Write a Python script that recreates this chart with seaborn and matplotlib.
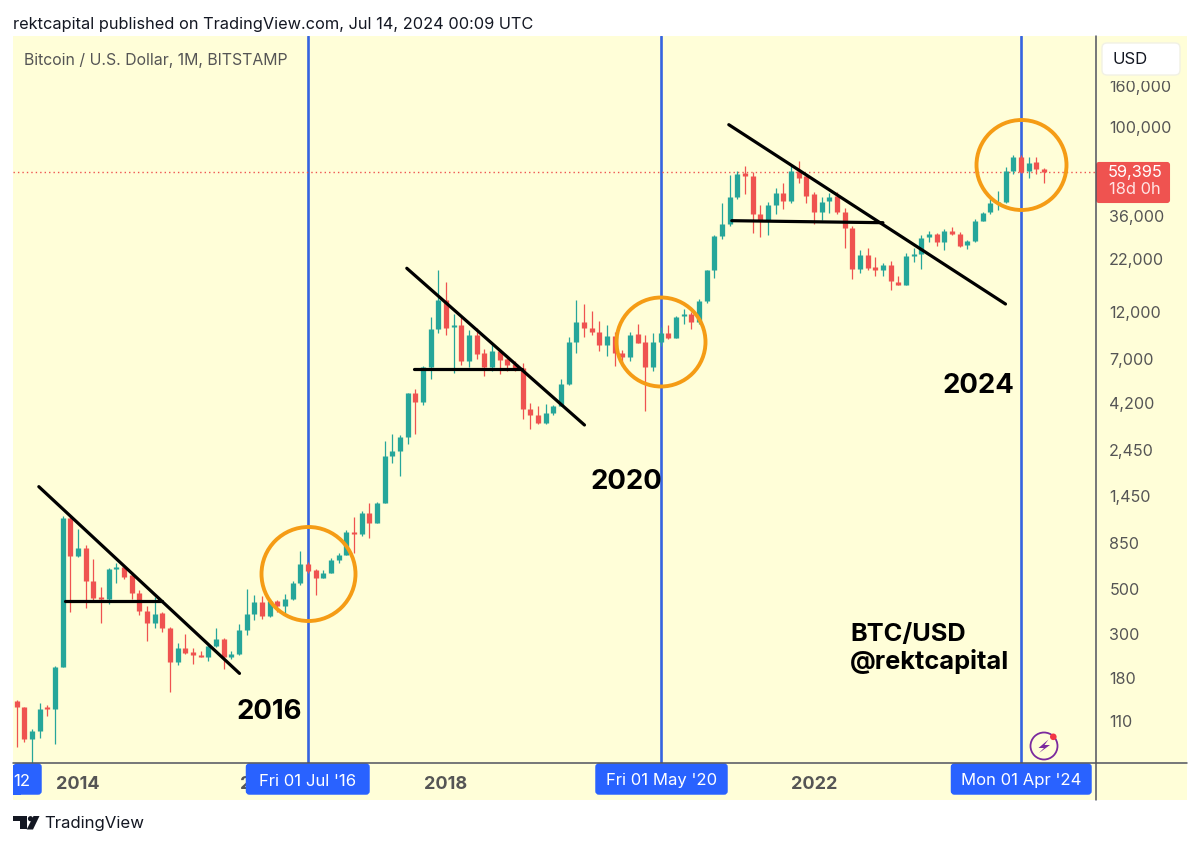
import matplotlib
matplotlib.use('Agg')
import matplotlib.pyplot as plt
import numpy as np
import pandas as pd
import seaborn as sns
from matplotlib.patches import Circle, FancyBboxPatch, Polygon, Rectangle

# BTC/USD monthly candles, May 2013 to Jul 2024
opens = [139, 129, 90, 98, 129, 126, 205, 1125,
         728, 800, 548, 455, 445, 627, 640, 590, 476, 390, 338, 380,
         320, 217, 254, 243, 235, 229, 261, 283, 230, 236, 312, 376,
         431, 367, 438, 412, 446, 534, 666, 624, 569, 603, 698, 739,
         966, 945, 1191, 1070, 1346, 2300, 2443, 2850, 4720, 4270, 6355, 9900,
         13750, 10100, 10300, 6857, 9205, 7500, 6355, 7690, 7000, 6620, 6300, 3928,
         3680, 3358, 3750, 4083, 5233, 8495, 10690, 9970, 9500, 8205, 9105, 7530,
         7130, 9350, 8530, 6355, 8530, 9450, 8930, 11400, 11650, 10690, 13650, 19400,
         28760, 32770, 44670, 58700, 57000, 36900, 34430, 41020, 46770, 42950, 60560, 56900,
         46300, 37740, 42900, 45500, 37600, 31550, 19630, 23070, 20000, 19400, 20500, 17000,
         16340, 22900, 23200, 28200, 29300, 26700, 30300, 29300, 25900, 27000, 34150, 37700,
         41700, 42500, 60700, 70600, 60700, 66950, 61800]
highs = [140, 129, 101, 135, 132, 207, 1159, 1163,
         995, 826, 706, 512, 637, 676, 650, 610, 494, 412, 457, 385,
         322, 268, 298, 254, 247, 267, 319, 285, 245, 335, 500, 467,
         462, 445, 442, 472, 548, 776, 684, 630, 625, 716, 754, 985,
         1138, 1224, 1346, 1350, 2741, 2958, 2920, 4760, 4940, 6450, 11280, 19400,
         17000, 11700, 11460, 9750, 9940, 7840, 8280, 7800, 7240, 6830, 6700, 4205,
         4090, 4155, 4130, 5540, 9030, 13750, 13090, 12170, 10840, 10290, 9500, 7730,
         9500, 10440, 9180, 9400, 10060, 10360, 11450, 12360, 12050, 13960, 19500, 29000,
         41700, 57680, 60560, 63970, 59500, 40740, 42500, 49890, 52480, 65460, 67930, 58500,
         47500, 44950, 47090, 47500, 39360, 32300, 24380, 24890, 22440, 20990, 21400, 18160,
         23660, 24890, 28970, 30470, 29800, 31060, 31620, 30000, 27500, 35000, 37900, 43750,
         48200, 63400, 72800, 72700, 71120, 71120, 62500]
lows = [82, 87, 65, 91, 116, 85, 204, 385,
        720, 404, 438, 340, 421, 538, 559, 444, 371, 276, 319, 307,
        153, 210, 237, 212, 228, 220, 258, 199, 225, 235, 296, 351,
        353, 362, 385, 379, 440, 525, 601, 465, 565, 601, 676, 735,
        759, 919, 895, 1065, 1340, 2129, 1828, 2630, 2958, 4130, 5540, 9400,
        9250, 5935, 6530, 6400, 6966, 5755, 6070, 5870, 6115, 6115, 3500, 3122,
        3330, 3330, 3680, 4060, 5200, 7465, 8995, 9180, 7690, 7240, 6470, 6450,
        6857, 8400, 3855, 6115, 8130, 8750, 8900, 10440, 9825, 10400, 13250, 17660,
        27600, 32130, 44000, 46400, 29780, 28440, 29100, 36900, 39170, 42000, 52840, 41700,
        32770, 34430, 37150, 37000, 25060, 17550, 18680, 19400, 18100, 18100, 15430, 16300,
        16280, 21180, 19540, 26730, 25530, 24490, 29000, 25300, 24690, 26600, 34000, 37000,
        38600, 42000, 58600, 59000, 55950, 58300, 52840]
closes = [129, 90, 98, 127, 126, 205, 1125, 728,
          800, 548, 450, 445, 627, 640, 576, 476, 390, 338, 376, 320,
          216, 254, 241, 235, 229, 261, 283, 230, 236, 312, 376, 431,
          367, 438, 412, 446, 534, 666, 617, 569, 603, 698, 739, 966,
          945, 1191, 1070, 1346, 2300, 2443, 2850, 4720, 4270, 6355, 9900, 13750,
          9970, 10300, 6857, 9205, 7410, 6355, 7690, 6915, 6530, 6210, 3928, 3680,
          3358, 3750, 4083, 5233, 8495, 10690, 9940, 9500, 8205, 9105, 7465, 7130,
          9205, 8430, 6400, 8530, 9400, 8930, 11350, 11700, 10690, 13650, 19400, 28760,
          32770, 44670, 58320, 57000, 36900, 34430, 41020, 46770, 42950, 60560, 55590, 45290,
          37740, 42480, 44800, 37600, 31550, 19630, 23070, 19770, 19350, 20540, 17050, 16340,
          22870, 23300, 28110, 29300, 26670, 30270, 29300, 25530, 27000, 34150, 37150, 41700,
          42500, 60560, 70630, 59500, 65920, 61800, 59395]

last_price = 59395
price_ticks = [110, 180, 300, 500, 850, 1450, 2450, 4200, 7000, 12000, 22000, 36000, 100000, 160000]
year_ticks = ['2014', '2016', '2018', '2022']
marked_months = ['2016-07', '2020-05', '2024-04']

# hand drawn lines: month (as candle number) and price at each end
trend_x = [[2.87, 29.05], [6.31, 18.91], [50.88, 74.06], [51.88, 65.93], [92.89, 128.99], [93.28, 113.0]]
trend_y = [[1617, 190], [437.5, 437.5], [19790, 3280], [6215, 6215], [102680, 13135], [34150, 33370]]

GREEN = '#26A69A'
RED = '#EF5350'
BLUE = '#2962FF'
YELLOW = '#FFFED8'
ORANGE = '#F59C15'
W, H = 1200, 847

months = pd.date_range('2013-05-01', periods=len(opens), freq='MS')
df = pd.DataFrame({'i': np.arange(len(opens)), 'open': opens, 'high': highs, 'low': lows, 'close': closes})
df['dir'] = np.where(df['close'] >= df['open'], 'up', 'down')
palette = {'up': GREEN, 'down': RED}

sns.set_theme(style='white')
plt.rcParams['font.family'] = ['Inter', 'DejaVu Sans']

fig = plt.figure(figsize=(12, 8.47), dpi=100, facecolor='white')


def pixel_axes(z):
    a = fig.add_axes([0, 0, 1, 1], zorder=z)
    a.set_xlim(0, W)
    a.set_ylim(H, 0)
    a.axis('off')
    a.patch.set_alpha(0)
    return a


back = pixel_axes(0)
back.add_patch(Rectangle((13, 36), 1174, 764, fc=YELLOW, ec='none'))

# main chart, 13..1096 by 36..763 in pixels
ax = fig.add_axes([13 / W, 1 - 763 / H, (1096 - 13) / W, (763 - 36) / H], zorder=1)
ax.patch.set_alpha(0)
ax.set_yscale('log')

for m in marked_months:
    i = months.get_loc(pd.Timestamp(m + '-01'))
    ax.axvline(i, color='#3563E0', lw=1.9, zorder=1)
ax.axhline(last_price, color=RED, lw=1.0, ls=(0, (1, 2.2)), zorder=1)

wicks = df.melt(id_vars=['i', 'dir'], value_vars=['low', 'high'], value_name='price')
bodies = df.melt(id_vars=['i', 'dir'], value_vars=['open', 'close'], value_name='price')
sns.lineplot(data=wicks, x='i', y='price', hue='dir', units='i', estimator=None, palette=palette,
             lw=0.9, legend=False, ax=ax, zorder=2, solid_capstyle='butt')
sns.lineplot(data=bodies, x='i', y='price', hue='dir', units='i', estimator=None, palette=palette,
             lw=3.8, legend=False, ax=ax, zorder=3, solid_capstyle='butt')

for tx, ty in zip(trend_x, trend_y):
    ax.plot(tx, ty, color='black', lw=2.3, zorder=4, solid_capstyle='round')

ax.set_xlim(-0.5, 140.8)
ax.set_ylim(68, 283900)
ax.set_xlabel('')
ax.set_ylabel('')
ax.yaxis.tick_right()
ax.minorticks_off()
ax.set_yticks(price_ticks)
ax.set_yticklabels([f'{p:,}' for p in price_ticks], fontsize=11.6, color='#555555')
ax.set_xticks([months.get_loc(pd.Timestamp(y + '-01-01')) for y in year_ticks])
ax.set_xticklabels(year_ticks, fontsize=13, color='#555555', fontweight='bold')
ax.tick_params(axis='y', length=0, pad=9.5)
ax.tick_params(axis='x', length=0, pad=9)
for s in ax.spines.values():
    s.set_visible(False)

over = pixel_axes(2)
# axis frame
over.plot([13, 1187], [763, 763], color='#50535E', lw=1.1)
over.plot([1096, 1096], [36, 800], color='#50535E', lw=1.1)

# orange circles
for cx, cy, r in [(308.5, 574, 47), (661, 342, 44.5), (1021.5, 165, 45)]:
    over.add_patch(Circle((cx, cy), r, fc='none', ec=ORANGE, lw=2.8))

# date tags on the time axis
for x0, x1, label in [(13, 42, ''), (245.5, 370, "Fri 01 Jul '16"), (595, 728, "Fri 01 May '20"),
                      (950.5, 1092, "Mon 01 Apr '24")]:
    over.add_patch(FancyBboxPatch((x0 + 2, 765), x1 - x0 - 4, 28, boxstyle='round,pad=0,rounding_size=2',
                                  mutation_aspect=1, fc=BLUE, ec=BLUE, lw=2.5))
    if label:
        over.text((x0 + x1) / 2, 781, label, color='white', fontsize=12, ha='center', va='center')
over.add_patch(Rectangle((13, 765), 8, 30, fc=BLUE, ec='none'))
over.text(21.5, 781, '12', color='white', fontsize=12, ha='center', va='center')

# price tag and USD box
over.add_patch(FancyBboxPatch((1097, 163), 72, 39, boxstyle='round,pad=0,rounding_size=2', fc=RED, ec=RED, lw=1.5))
over.text(1135, 172, '59,395', color='white', fontsize=11.8, ha='center', va='center')
over.text(1135, 190, '18d 0h', color='#FFE5E5', fontsize=11.8, ha='center', va='center')
over.add_patch(Rectangle((1100, 76), 82, 5, fc=YELLOW, ec='none'))
over.add_patch(FancyBboxPatch((1102, 43), 78, 32, boxstyle='round,pad=0,rounding_size=5',
                              fc='white', ec='#F1F1E4', lw=1))
over.text(1113, 59, 'USD', color='#131722', fontsize=12, ha='left', va='center')

# header and titles
over.text(13, 24, 'rektcapital published on TradingView.com, Jul 14, 2024 00:09 UTC', color='#131722',
          fontsize=11.77, ha='left', va='center')
over.text(24, 60, 'Bitcoin / U.S. Dollar, 1M, BITSTAMP', color='#555555', fontsize=11.4, ha='left', va='center')

# hand written labels
for x, y, label in [(237, 712, '2016'), (590, 482, '2020'), (943, 386, '2024')]:
    over.text(x, y, label, color='black', fontsize=19.8, fontweight='bold', ha='left', va='center')
over.text(850, 635, 'BTC/USD', color='black', fontsize=18.3, fontweight='bold', ha='left', va='center')
over.text(850, 662, '@rektcapital', color='black', fontsize=18.3, fontweight='bold', ha='left', va='center')

# lightning icon
over.add_patch(Circle((1044, 746), 13.5, fc='none', ec='#7B2A9E', lw=1.3))
over.add_patch(Polygon([(1048.5, 739.5), (1038.5, 748), (1044, 748), (1039, 753), (1050, 745), (1044.5, 745)],
                       fc='#7B2A9E', ec='none'))
over.add_patch(Circle((1053.3, 736.8), 3.3, fc='#F23645', ec='none'))

# TradingView logo
LOGO = '#131722'
over.add_patch(Polygon([(13.3, 816), (26.7, 816), (26.7, 829.5), (19.5, 829.5), (19.5, 821), (13.3, 821)],
                       fc=LOGO, ec='none'))
over.add_patch(Circle((30.5, 818.7), 2.6, fc=LOGO, ec='none'))
over.add_patch(Polygon([(33.5, 816), (39.5, 816), (33, 829.5), (26.7, 829.5)], fc=LOGO, ec='none'))
over.text(44, 823.5, 'TradingView', color=LOGO, fontsize=12.1, ha='left', va='center')

fig.savefig('out.png', dpi=100)
plt.close('all')
